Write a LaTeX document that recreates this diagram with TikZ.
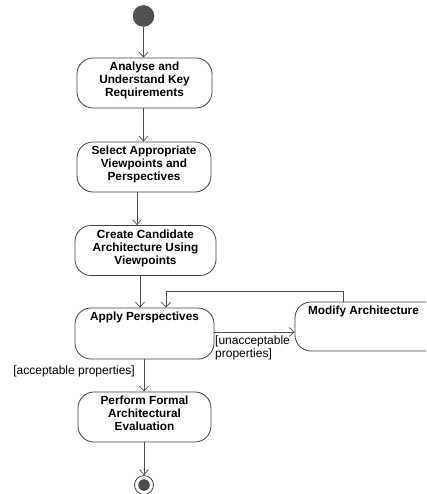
\documentclass[tikz,border=0pt]{standalone}
\usepackage{fontspec}
\setmainfont{Liberation Sans}
\usetikzlibrary{arrows.meta}
\begin{document}
\begin{tikzpicture}[x=1pt,y=-1pt,
  act/.style={draw=black!75, line width=0.8pt, rounded corners=16pt, inner sep=0pt,
    minimum height=50pt, align=center, text depth=7pt, font=\bfseries\fontsize{11.8}{12.9}\selectfont},
  ttl/.style={font=\bfseries\fontsize{11.8}{12.9}\selectfont, anchor=north, inner sep=0pt},
  arr/.style={draw=black!70, line width=0.7pt, -{Straight Barb[length=5pt,width=9pt,line width=0.7pt]}},
  lbl/.style={font=\fontsize{12}{13}\selectfont, inner sep=0pt, align=left}]
\useasboundingbox (0,0) rectangle (426,494);
\clip (0,0) rectangle (426,494);
% initial node
\node[circle, fill=black!68, draw=black!75, minimum size=21pt, inner sep=0pt] (start) at (143.5,16) {};
% activities
\node[act, minimum width=135pt] (a1) at (144.5,83) {Analyse and\\Understand Key\\Requirements};
\node[act, minimum width=134pt] (a2) at (144,167) {Select Appropriate\\Viewpoints and\\Perspectives};
\node[act, minimum width=141pt] (a3) at (145.5,250.5) {Create Candidate\\Architecture Using\\Viewpoints};
\node[act, minimum width=139pt, minimum height=51pt] (a4) at (144.5,333.5) {};
\node[ttl] (a4t) at ([yshift=-4pt]a4.north) {Apply Perspectives};
\node[act, minimum width=170pt, minimum height=49pt] (mod) at (380,326.5) {};
\node[ttl] (modt) at (363.5,305.5) {Modify Architecture};
\node[act, minimum width=133pt] (a5) at (144.5,417) {Perform Formal\\Architectural\\Evaluation};
% final node
\node[circle, draw=black!75, line width=0.8pt, minimum size=19pt, inner sep=0pt] (end) at (144,485) {};
\fill[black!70] (end.center) circle (5.8pt);
% guide coordinates
\coordinate (x1) at (143.5,0);
\coordinate (x2) at (137,0);
\coordinate (x3) at (140,0);
\coordinate (x4) at (144,0);
\coordinate (xl) at (343,0);
\coordinate (xr) at (166,0);
% connectors
\draw[arr] (start.south) -- (a1.north -| x1);
\draw[arr] (a1.south -| x1) -- (a2.north -| x1);
\draw[arr] (a2.south -| x2) -- (a3.north -| x2);
\draw[arr] (a3.south -| x3) -- (a4.north -| x3);
\draw[arr] (a4.south -| x4) -- (a5.north -| x4);
\draw[arr] (a5.south -| x4) -- (end.north);
\draw[arr] (a4.east |- 0,332) -- (mod.west |- 0,332);
\draw[arr] (mod.north -| xl) -- ++(0,-10) -| (a4.north -| xr);
% guards
\node[lbl, anchor=east] (g1) at (135,371) {[acceptable properties]};
\node[lbl, anchor=north west] (g2) at (215,335.5) {[unacceptable\\properties]};
\end{tikzpicture}
\end{document}
